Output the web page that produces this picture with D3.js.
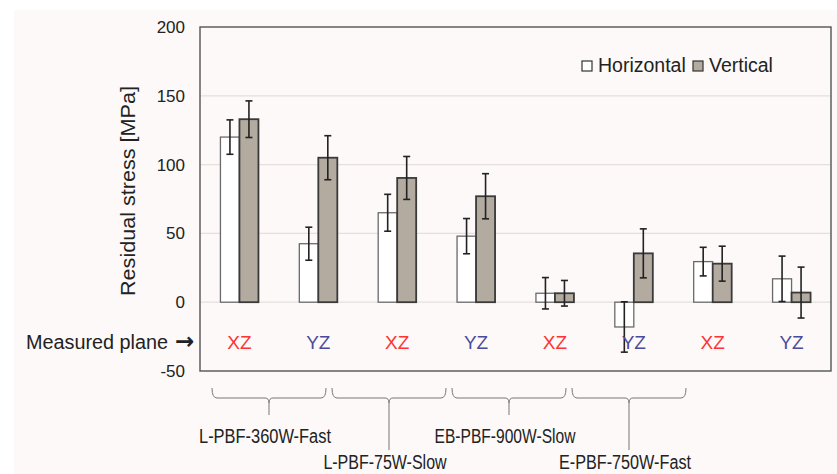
<!DOCTYPE html>
<html>
<head>
<meta charset="utf-8">
<script src="https://cdn.jsdelivr.net/npm/d3@7"></script>
<style>
  body { margin: 0; background: #ffffff; }
  svg { display: block; font-family: "Liberation Sans", Arial, sans-serif; }
</style>
</head>
<body>
<svg id="chart" width="837" height="474"></svg>
<script>
// ---- data ----
const planes = ["XZ", "YZ", "XZ", "YZ", "XZ", "YZ", "XZ", "YZ"];
const horizontal = [120, 42.5, 65, 48, 6.5, -18, 29.5, 17];
const horizontalErr = [12.5, 12, 13.4, 12.8, 11.4, 18.3, 10.4, 16.5];
const vertical = [133, 105, 90.3, 77, 6.5, 35.5, 28, 7];
const verticalErr = [13.3, 16, 15.6, 16.4, 9.3, 17.8, 12.7, 18.5];
const yTicks = [-50, 0, 50, 100, 150, 200];
const processes = ["L-PBF-360W-Fast", "L-PBF-75W-Slow", "EB-PBF-900W-Slow", "E-PBF-750W-Fast"];
const seriesNames = ["Horizontal", "Vertical"];

// ---- layout ----
const svg = d3.select("#chart");
const plot = { left: 200, right: 831, top: 27, bottom: 371 };

svg.append("rect").attr("x", 14).attr("y", 10).attr("width", 823).attr("height", 464).attr("fill", "#fcf9f8");

const x = d3.scaleBand().domain(d3.range(planes.length)).range([plot.left, plot.right]).padding(0);
const y = d3.scaleLinear().domain([-50, 200]).range([plot.bottom, plot.top]);
const barW = 19;

// gridlines
svg.append("g").selectAll("line").data(yTicks.filter(t => t > -50 && t < 200)).join("line")
  .attr("x1", plot.left).attr("x2", plot.right)
  .attr("y1", d => y(d)).attr("y2", d => y(d))
  .attr("stroke", "#e6dfdc").attr("stroke-width", 1.2);

// y axis labels
const yAxis = d3.axisLeft(y).tickValues(yTicks).tickSize(0).tickPadding(15).tickFormat(d => String(d));
const gy = svg.append("g").attr("transform", `translate(${plot.left},0)`).call(yAxis);
gy.select(".domain").remove();
gy.selectAll("text").attr("font-size", 17).attr("fill", "#222").attr("font-family", "Liberation Sans, Arial, sans-serif");

// y title
svg.append("text").attr("transform", `translate(135,191) rotate(-90)`)
  .attr("text-anchor", "middle").attr("font-size", 20).attr("fill", "#222")
  .attr("textLength", 210).attr("lengthAdjust", "spacingAndGlyphs")
  .text("Residual stress [MPa]");

// bars
const barsData = planes.map((p, i) => ({ i, h: horizontal[i], he: horizontalErr[i], v: vertical[i], ve: verticalErr[i] }));
const cx = i => x(i) + x.bandwidth() / 2;

svg.append("g").selectAll("rect").data(barsData).join("rect")
  .attr("x", d => cx(d.i) - barW).attr("width", barW)
  .attr("y", d => y(Math.max(0, d.h))).attr("height", d => Math.abs(y(d.h) - y(0)))
  .attr("fill", "#ffffff").attr("stroke", "#6a6a6a").attr("stroke-width", 1.3);

svg.append("g").selectAll("rect").data(barsData).join("rect")
  .attr("x", d => cx(d.i)).attr("width", barW)
  .attr("y", d => y(Math.max(0, d.v))).attr("height", d => Math.abs(y(d.v) - y(0)))
  .attr("fill", "#b3aaa0").attr("stroke", "#3a3a3a").attr("stroke-width", 1.8);

// error bars
function errBars(getX, getV, getE) {
  const g = svg.append("g").attr("stroke", "#222").attr("stroke-width", 1.6);
  barsData.forEach(d => {
    const xc = getX(d), v = getV(d), e = getE(d);
    g.append("line").attr("x1", xc).attr("x2", xc).attr("y1", y(v + e)).attr("y2", y(v - e));
    g.append("line").attr("x1", xc - 3.5).attr("x2", xc + 3.5).attr("y1", y(v + e)).attr("y2", y(v + e));
    g.append("line").attr("x1", xc - 3.5).attr("x2", xc + 3.5).attr("y1", y(v - e)).attr("y2", y(v - e));
  });
}
errBars(d => cx(d.i) - barW / 2, d => d.h, d => d.he);
errBars(d => cx(d.i) + barW / 2, d => d.v, d => d.ve);

// frame
svg.append("rect").attr("x", plot.left).attr("y", plot.top)
  .attr("width", plot.right - plot.left).attr("height", plot.bottom - plot.top)
  .attr("fill", "none").attr("stroke", "#555").attr("stroke-width", 1.4);

// plane labels
svg.append("g").selectAll("text").data(planes).join("text")
  .attr("x", (d, i) => cx(i)).attr("y", 342).attr("dy", "0.35em")
  .attr("text-anchor", "middle").attr("font-size", 19)
  .attr("fill", d => d === "XZ" ? "#ff3333" : "#4a4a9c")
  .text(d => d);

const mp = svg.append("text").attr("x", 26).attr("y", 342).attr("dy", "0.35em")
  .attr("font-size", 19.5).attr("fill", "#222");
mp.append("tspan").attr("textLength", 142).attr("lengthAdjust", "spacingAndGlyphs").text("Measured plane");
mp.append("tspan").attr("x", 175).attr("font-family", "DejaVu Sans, sans-serif").attr("font-size", 23).attr("font-weight", "bold").text("\u2192");

// legend
const legendItems = [
  { name: seriesNames[0], x: 582, fill: "#ffffff", tx: 598 },
  { name: seriesNames[1], x: 693, fill: "#b3aaa0", tx: 709 }
];
legendItems.forEach(l => {
  svg.append("rect").attr("x", l.x).attr("y", 61).attr("width", 10).attr("height", 10)
    .attr("fill", l.fill).attr("stroke", "#333").attr("stroke-width", 1.2);
  svg.append("text").attr("x", l.tx).attr("y", 72).attr("font-size", 19.5).attr("fill", "#222").text(l.name);
});

// process brackets
const bracketStart = 212, bracketStep = 120, bracketW = 114;
processes.forEach((p, k) => {
  const x0 = bracketStart + k * bracketStep, x1 = x0 + bracketW, c = (x0 + x1) / 2;
  const tickEnd = k % 2 === 0 ? 415 : 450;
  const labelY = k % 2 === 0 ? 443 : 469;
  const path = `M${x0},388 Q${x0},398 ${x0 + 5},398 H${c - 4} Q${c},398 ${c},403 V${tickEnd}` +
               ` M${x1},388 Q${x1},398 ${x1 - 5},398 H${c + 4} Q${c},398 ${c},403`;
  svg.append("path").attr("d", path).attr("fill", "none").attr("stroke", "#777").attr("stroke-width", 1);
  svg.append("text").attr("x", c - 4).attr("y", labelY)
    .attr("text-anchor", "middle").attr("font-size", 20).attr("fill", "#222")
    .attr("textLength", p.length * 8.8).attr("lengthAdjust", "spacingAndGlyphs")
    .text(p);
});
</script>
</body>
</html>
